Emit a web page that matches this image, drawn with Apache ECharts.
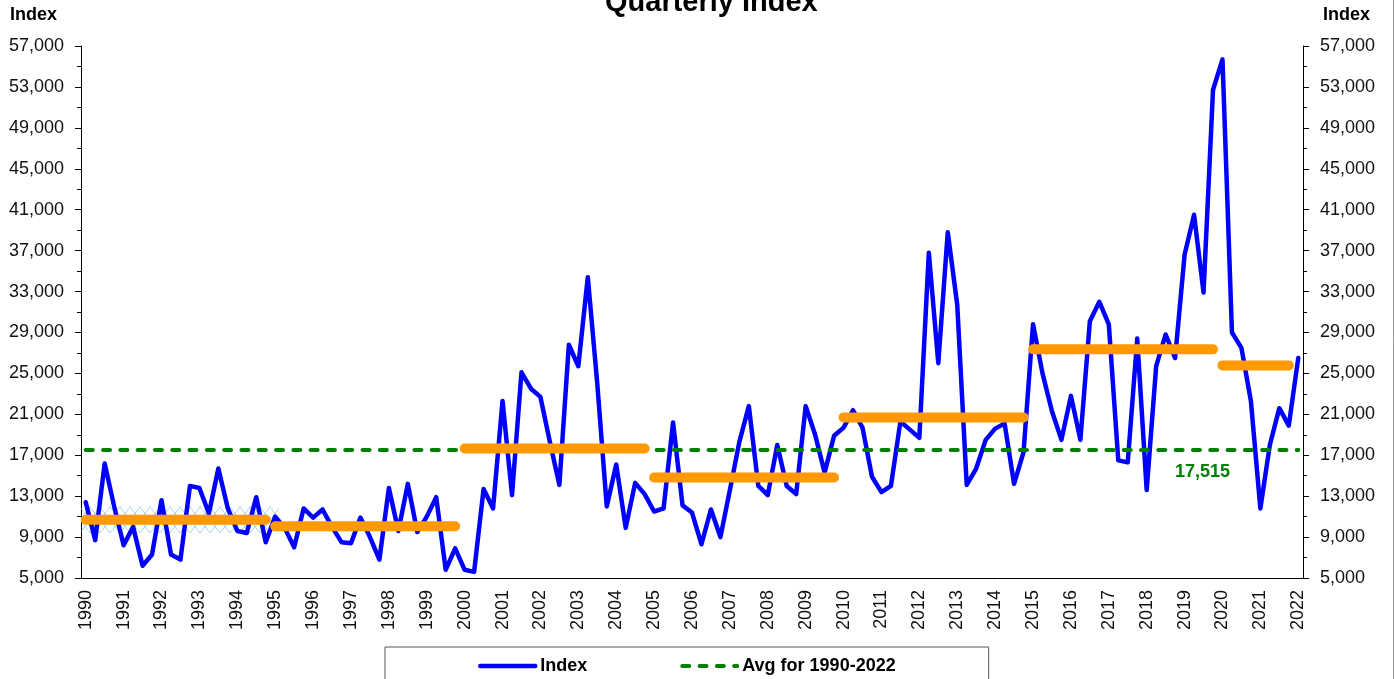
<!DOCTYPE html>
<html>
<head>
<meta charset="utf-8">
<title>Quarterly Index</title>
<script src="https://cdn.jsdelivr.net/npm/echarts@6/dist/echarts.min.js"></script>
<style>
  html, body { margin: 0; padding: 0; background: #fff; }
  #chart { width: 1395px; height: 679px; }
</style>
</head>
<body>
<div id="chart"></div>
<script>
// quarterly values, 1990 Q1 .. 2022 Q1
const years = []
for (let y = 1990; y <= 2022; y++) years.push(y)

const quarterValues = [
  12400, 8700, 16200, 12000,
  8200, 10000, 6200, 7300,
  12600, 7300, 6800, 14000,
  13800, 11300, 15700, 11800,
  9600, 9400, 12900, 8500,
  11000, 9900, 8000, 11800,
  10900, 11700, 10000, 8500,
  8400, 10900, 9000, 6800,
  13800, 9600, 14200, 9500,
  11000, 12900, 5800, 7900,
  5800, 5600, 13700, 11800,
  22300, 13100, 25100, 23500,
  22700, 18300, 14100, 27800,
  25700, 34400, 24000, 12000,
  16100, 9900, 14300, 13200,
  11500, 11800, 20200, 12100,
  11400, 8300, 11700, 9000,
  13600, 18300, 21800, 14000,
  13100, 18000, 14000, 13200,
  21800, 19000, 15300, 18900,
  19700, 21400, 19700, 14900,
  13400, 14000, 20300, 19500,
  18700, 36800, 26000, 38800,
  31700, 14100, 15700, 18500,
  19600, 20100, 14200, 17300,
  29800, 25000, 21300, 18500,
  22800, 18500, 30100, 32000,
  29800, 16500, 16300, 28400,
  13600, 25700, 28800, 26500,
  36600, 40500, 32900, 52700,
  55700, 29000, 27500, 22300,
  11800, 18000, 21600, 19900,
  26500
]

// five-year period averages
const periodStart = [1990, 1995, 2000, 2005, 2010, 2015, 2020]
const periodEnd = [1995, 2000, 2005, 2010, 2015, 2020, 2022]
const periodAvg = [10700, 10050, 17650, 14830, 20700, 27350, 25780]

const overallAvg = 17515

const yMin = 5000
const yMax = 57000
const yStep = 4000

const quarterLabels = []
years.forEach(y => {
  ['Q1', 'Q2', 'Q3', 'Q4'].forEach(q => quarterLabels.push(y + q))
})
quarterLabels.length = quarterValues.length

const FONT = 'Liberation Sans, Arial, sans-serif'
const fmt = v => v.toLocaleString('en-US')

// orange segments, broken with '-' between periods
const capInset = 0.5
const periodData = []
periodStart.forEach((s, i) => {
  const a = (s - 1990) * 4 + capInset
  const b = (periodEnd[i] - 1990) * 4 - capInset
  periodData.push([a, periodAvg[i]], [b, periodAvg[i]], [b, '-'])
})

// light blue cross hatch under the first period bar
const hatch = document.createElement('canvas')
hatch.width = 10
hatch.height = 13
const hctx = hatch.getContext('2d')
hctx.strokeStyle = 'rgba(110,185,220,0.6)'
hctx.lineWidth = 1
hctx.beginPath()
hctx.moveTo(0, 0); hctx.lineTo(10, 13)
hctx.moveTo(10, 0); hctx.lineTo(0, 13)
hctx.stroke()

const yAxisBase = {
  type: 'value',
  min: yMin,
  max: yMax,
  interval: yStep,
  splitLine: { show: false },
  axisLine: { show: true, lineStyle: { color: '#000', width: 1 } },
  axisTick: { show: true, length: 6, lineStyle: { color: '#000' } },
  minorTick: { show: true, splitNumber: 2, length: 4, lineStyle: { color: '#000' } },
  axisLabel: { color: '#111', fontSize: 18, fontFamily: FONT, margin: 17, formatter: fmt }
}

const chart = echarts.init(document.getElementById('chart'))

chart.setOption({
  animation: false,
  backgroundColor: '#fff',
  title: {
    text: 'Quarterly Index',
    left: 600,
    top: -17,
    textStyle: { fontSize: 29, fontWeight: 'bold', color: '#000', fontFamily: FONT }
  },
  grid: { left: 81, right: 92, top: 46, bottom: 101 },
  legend: {
    data: [
      { name: 'Index', lineStyle: { width: 4.5 } },
      { name: 'Avg for 1990-2022', lineStyle: { width: 4 } }
    ],
    left: 385,
    top: 647,
    padding: [10, 93, 30, 93],
    itemWidth: 55,
    itemHeight: 14,
    itemGap: 93,
    itemStyle: { color: 'transparent', borderWidth: 0, opacity: 0 },
    backgroundColor: '#fff',
    borderColor: '#555',
    borderWidth: 1,
    textStyle: { fontSize: 18, fontWeight: 'bold', color: '#000', fontFamily: FONT }
  },
  xAxis: [
    {
      type: 'category',
      data: quarterLabels,
      boundaryGap: true,
      axisLine: { lineStyle: { color: '#000', width: 1 } },
      axisTick: { interval: 3, length: 5, lineStyle: { color: '#000' } },
      axisLabel: {
        interval: 3,
        rotate: 90,
        margin: 12,
        fontSize: 18,
        fontFamily: FONT,
        color: '#111',
        formatter: v => v.slice(0, 4)
      },
      splitLine: { show: false }
    },
    {
      type: 'value',
      min: 0,
      max: quarterValues.length,
      show: false
    }
  ],
  yAxis: [
    Object.assign({}, yAxisBase, { position: 'left' }),
    Object.assign({}, yAxisBase, { position: 'right' })
  ],
  graphic: [
    { type: 'text', left: 10, top: 6, style: { text: 'Index', font: 'bold 18px ' + FONT, fill: '#000' } },
    { type: 'text', left: 1323, top: 6, style: { text: 'Index', font: 'bold 18px ' + FONT, fill: '#000' } },
    { type: 'text', left: 1175, top: 463, style: { text: fmt(overallAvg), font: 'bold 18px ' + FONT, fill: '#008000' } },
    { type: 'line', shape: { x1: 1393.5, y1: 0, x2: 1393.5, y2: 679 }, style: { stroke: '#999', lineWidth: 1 } }
  ],
  series: [
    {
      name: 'Index',
      type: 'line',
      xAxisIndex: 0,
      data: quarterValues,
      symbol: 'none',
      lineStyle: { color: '#0000ff', width: 4.5, join: 'round', cap: 'round' },
      itemStyle: { color: '#0000ff' },
      z: 2
    },
    {
      name: 'Avg for 1990-2022',
      type: 'line',
      xAxisIndex: 1,
      data: [[0.5, overallAvg], [quarterValues.length - 0.5, overallAvg]],
      symbol: 'none',
      lineStyle: { color: '#008000', width: 4, type: [7, 10.3], cap: 'round' },
      itemStyle: { color: '#008000' },
      z: 3
    },
    {
      name: 'Period average',
      type: 'line',
      xAxisIndex: 1,
      data: periodData,
      connectNulls: false,
      symbol: 'none',
      lineStyle: { color: '#ff9900', width: 10, cap: 'round' },
      itemStyle: { color: '#ff9900' },
      markArea: {
        silent: true,
        itemStyle: { color: { image: hatch, repeat: 'repeat' } },
        data: [[{ coord: [-1, 9400] }, { coord: [20.9, 12000] }]]
      },
      z: 4
    }
  ]
})
</script>
</body>
</html>
